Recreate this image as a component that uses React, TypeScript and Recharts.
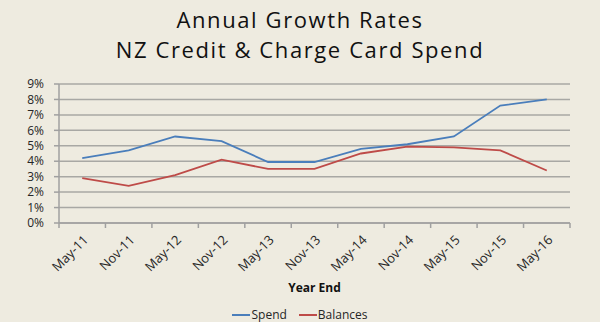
import React from 'react';
import { LineChart, Line, XAxis, YAxis, CartesianGrid } from 'recharts';

const periods = ['May-11', 'Nov-11', 'May-12', 'Nov-12', 'May-13', 'Nov-13', 'May-14', 'Nov-14', 'May-15', 'Nov-15', 'May-16'];
const spend = [4.2, 4.7, 5.6, 5.3, 3.95, 3.95, 4.8, 5.1, 5.6, 7.6, 8.0];
const balances = [2.9, 2.4, 3.1, 4.1, 3.5, 3.5, 4.5, 4.95, 4.9, 4.7, 3.4];
const yTicks = [0, 1, 2, 3, 4, 5, 6, 7, 8, 9];
const boundaryTicks = periods.map((_, i) => i).concat(periods.length);
const titleLines = ['Annual Growth Rates', 'NZ Credit & Charge Card Spend'];

const data = periods.map((p, i) => ({ period: p, Spend: spend[i], Balances: balances[i] }));

const BG = '#eeebe0';
const FONT = '"Open Sans", "Liberation Sans", sans-serif';

const RotatedTick = (props: any) => {
    const { x, y, payload } = props;
    return (
        <g transform={`translate(${x + 4},${y + 6})`}>
            <text transform="rotate(-45)" textAnchor="end" dy={4} fontSize={13} fill="#262626" fontFamily={FONT}>
                {payload.value}
            </text>
        </g>
    );
};

const App: React.FC = () => {
    return (
        <div style={{ position: 'relative', width: 600, height: 322, background: BG, fontFamily: FONT }}>
            <style>{`body{margin:0;background:${BG}}`}</style>
            {titleLines.map((t, i) => (
                <div key={t} style={{ position: 'absolute', top: 4 + i * 30, left: 0, width: 600, height: 30, textAlign: 'center', fontSize: 22, lineHeight: '30px', letterSpacing: 1.6, color: '#111', whiteSpace: 'nowrap' }}>
                    {t}
                </div>
            ))}
            <LineChart width={600} height={322} data={data} margin={{ top: 84, right: 30, bottom: 29, left: 0 }}>
                <CartesianGrid vertical={false} stroke="#a8a8a4" strokeWidth={1.5} />
                <XAxis xAxisId={0} type="number" dataKey="idx" domain={[0, periods.length]} ticks={boundaryTicks}
                    tickFormatter={() => ''} height={1} stroke="#a0a0a0" strokeWidth={1.5} tickSize={5} allowDataOverflow />
                <XAxis xAxisId={1} dataKey="period" scale="band" height={69} axisLine={false} tickLine={false}
                    interval={0} tick={<RotatedTick />}
                    label={{ value: 'Year End', position: 'insideBottom', offset: 1, fontSize: 12, fontWeight: 'bold', fill: '#111', fontFamily: FONT }} />
                <YAxis domain={[0, 9]} ticks={yTicks} interval={0} tickFormatter={(v: number) => `${v}%`} width={59}
                    stroke="#a0a0a0" strokeWidth={1.5} tickSize={5} tickMargin={10}
                    tick={{ fontSize: 12, fill: '#262626', fontFamily: FONT }} />
                <Line xAxisId={1} dataKey="Spend" stroke="#4a7ebb" strokeWidth={1.8} dot={false} isAnimationActive={false} />
                <Line xAxisId={1} dataKey="Balances" stroke="#be4b48" strokeWidth={1.8} dot={false} isAnimationActive={false} />
            </LineChart>
            <div style={{ position: 'absolute', top: 306, left: 0, width: 600, display: 'flex', justifyContent: 'center', fontSize: 12, color: '#262626', gap: 12 }}>
                <span style={{ display: 'flex', alignItems: 'center' }}>
                    <span style={{ display: 'inline-block', width: 18, height: 2, background: '#4a7ebb', marginRight: 1 }} />Spend
                </span>
                <span style={{ display: 'flex', alignItems: 'center' }}>
                    <span style={{ display: 'inline-block', width: 18, height: 2, background: '#be4b48', marginRight: 1 }} />Balances
                </span>
            </div>
        </div>
    );
};

export default App;
